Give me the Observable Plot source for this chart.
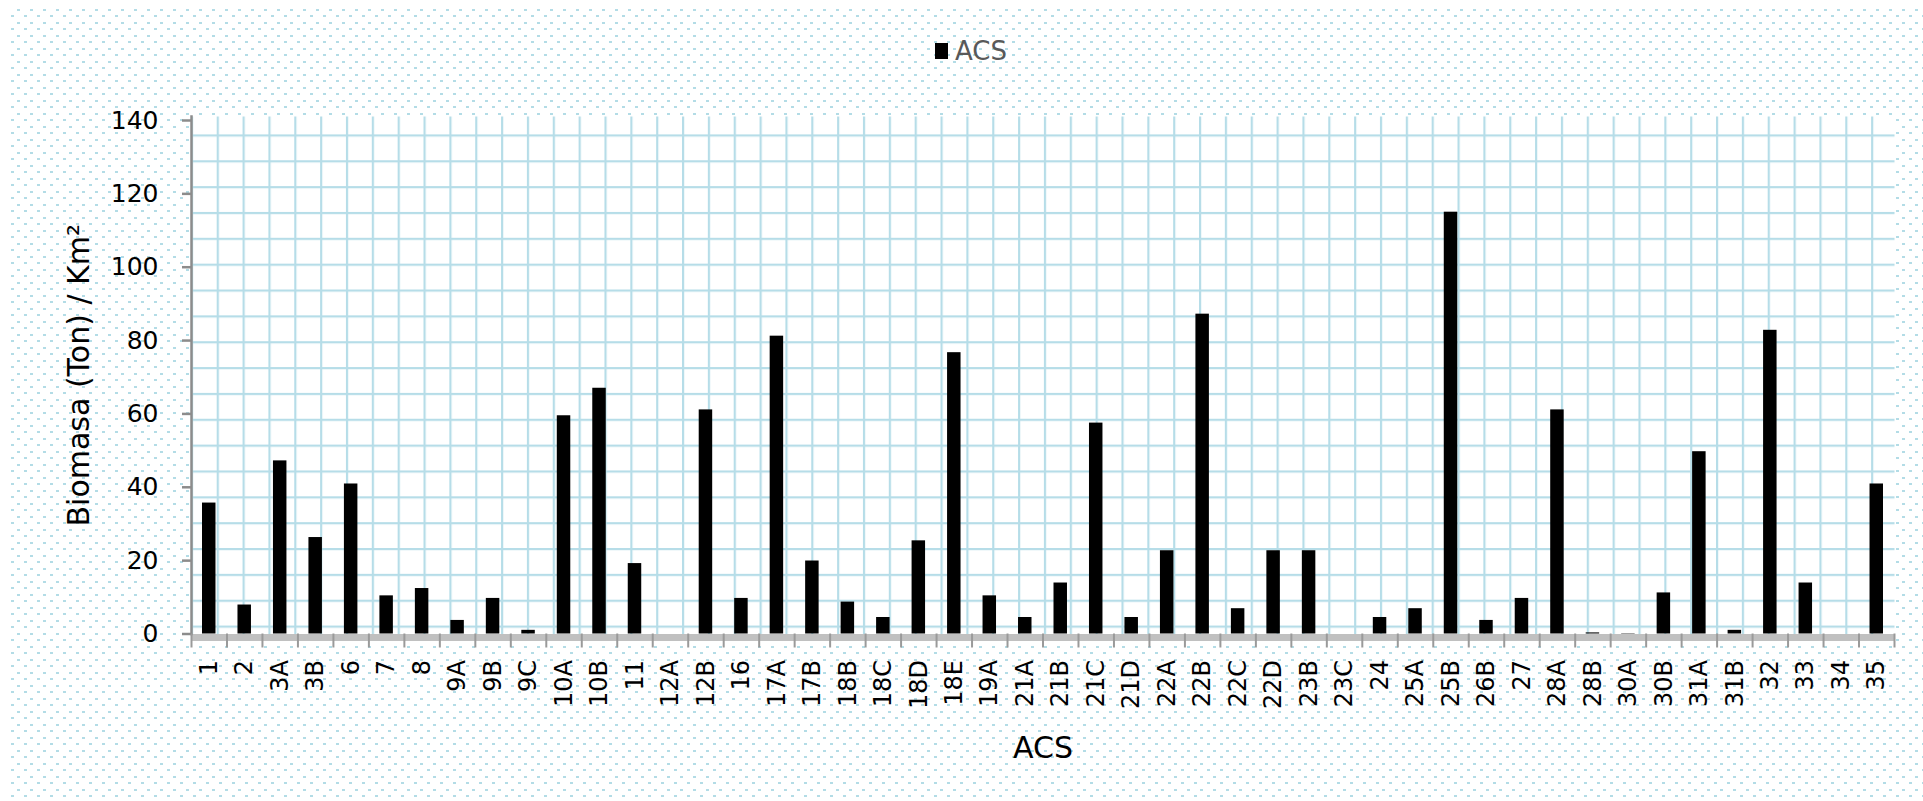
<!DOCTYPE html>
<html>
<head>
<meta charset="utf-8">
<script src="https://cdn.jsdelivr.net/npm/d3@7"></script>
<script src="https://cdn.jsdelivr.net/npm/@observablehq/plot@0.6"></script>
<style>
  html, body { margin: 0; padding: 0; background: #fff; }
  #wrap { position: relative; width: 1923px; height: 801px; overflow: hidden; background: #fff; }
  #dots {
    position: absolute; left: 8px; top: 8px; right: 0; bottom: 0;
    background-image: url("data:image/svg+xml,%3Csvg xmlns='http://www.w3.org/2000/svg' width='13' height='13'%3E%3Crect x='0' y='0' width='3' height='2' fill='%23b3dce6'/%3E%3Crect x='7' y='6' width='3' height='2' fill='%23b3dce6'/%3E%3C/svg%3E");
    background-position: 9px 1px;
  }
  #chart { position: absolute; left: 0; top: 0; }
  #legend {
    position: absolute; left: 935px; top: 36px; display: flex; align-items: center;
    font-family: "DejaVu Sans", sans-serif; font-size: 26px; color: #595959;
  }
  #legend .sw { display: inline-block; width: 13px; height: 16px; background: #000; margin-right: 7px; }
</style>
</head>
<body>
<div id="wrap">
  <div id="dots"></div>
  <div id="chart"></div>
  <div id="legend"></div>
</div>
<script>
// ---- data ----
const categories = ["1","2","3A","3B","6","7","8","9A","9B","9C",
  "10A","10B","11","12A","12B","16","17A","17B","18B","18C",
  "18D","18E","19A","21A","21B","21C","21D","22A","22B","22C",
  "22D","23B","23C","24","25A","25B","26B","27","28A","28B",
  "30A","30B","31A","31B","32","33","34","35"];
const values = [35.7, 7.9, 47.2, 26.3, 40.9, 10.4, 12.4, 3.7, 9.7, 1.0,
  59.5, 67.0, 19.2, 0, 61.1, 9.7, 81.2, 19.9, 8.7, 4.5,
  25.4, 76.7, 10.4, 4.5, 13.9, 57.5, 4.5, 22.7, 87.2, 6.9,
  22.7, 22.7, 0, 4.5, 6.9, 115.0, 3.7, 9.7, 61.1, 0.3,
  0.1, 11.2, 49.7, 1.0, 82.8, 13.9, 0, 40.9];
const yTicks = [0, 20, 40, 60, 80, 100, 120, 140];
const seriesName = "ACS";
const xTitle = "ACS";
const yTitle = "Biomasa (Ton) / Km²";

// ---- layout ----
const W = 1923, H = 801;
const mL = 191, mR = W - 1894, mT = 116, mB = H - 633.5;
const step = (W - mL - mR) / categories.length;
const inset = step * (1 - 0.38) / 2;
const table = categories.map((c, i) => ({cat: c, value: values[i]}));
const font = "DejaVu Sans";

const chart = Plot.plot({
  width: W, height: H,
  marginLeft: mL, marginRight: mR, marginTop: mT, marginBottom: mB,
  style: {background: "transparent", fontFamily: font, color: "#000", overflow: "visible"},
  x: {domain: categories, padding: 0, round: false, label: null},
  y: {domain: [0, 140], range: [633.5, 120], label: null},
  marks: [
    Plot.frame({fill: "white"}),
    Plot.frame({fill: "url(#paperGrid)"}),
    Plot.ruleY([0], {stroke: "#c0c0c0", strokeWidth: 7, dy: 3.5}),
    Plot.barY(table, {x: "cat", y: "value", fill: "black", insetLeft: inset, insetRight: inset}),
    Plot.frame({anchor: "left", stroke: "#8c8c8c", strokeWidth: 2.5}),
    Plot.axisY({ticks: yTicks, tickSize: 9, tickPadding: 24, stroke: "#8c8c8c", strokeWidth: 2.5,
      fontSize: 25, fill: "#000", label: null}),
    Plot.axisX({tickSize: 14, tickFormat: () => "", dx: -step / 2, stroke: "#9a9a9a", strokeWidth: 2, label: null}),
    Plot.axisX([categories[categories.length - 1]], {tickSize: 14, tickFormat: () => "", dx: step / 2,
      stroke: "#9a9a9a", strokeWidth: 2, label: null}),
    Plot.axisX({tickSize: 0, tickPadding: 26, tickRotate: -90, fontSize: 24, fill: "#000", label: null}),
    Plot.text([yTitle], {frameAnchor: "left", textAnchor: "middle", dx: -103, rotate: -90, lineAnchor: "bottom",
      fontSize: 30, fill: "#000"}),
    Plot.text([xTitle], {frameAnchor: "bottom", textAnchor: "middle", dy: 123.5, lineAnchor: "bottom", fontSize: 30, fill: "#000"})
  ]
});

// graph-paper texture for the plot area
const g = 25.85;
const defs = document.createElementNS("http://www.w3.org/2000/svg", "defs");
defs.innerHTML = `<pattern id="paperGrid" patternUnits="userSpaceOnUse" x="216.2" y="133.9" width="${g}" height="${g}">
  <rect x="0" y="0" width="2.2" height="${g}" fill="#b6dde8"/>
  <rect x="0" y="0" width="${g}" height="2.2" fill="#b6dde8"/></pattern>`;
chart.insertBefore(defs, chart.firstChild);
document.getElementById("chart").appendChild(chart);

// legend
const lg = document.getElementById("legend");
const sw = document.createElement("span"); sw.className = "sw";
lg.appendChild(sw);
lg.appendChild(document.createTextNode(seriesName));
</script>
</body>
</html>
